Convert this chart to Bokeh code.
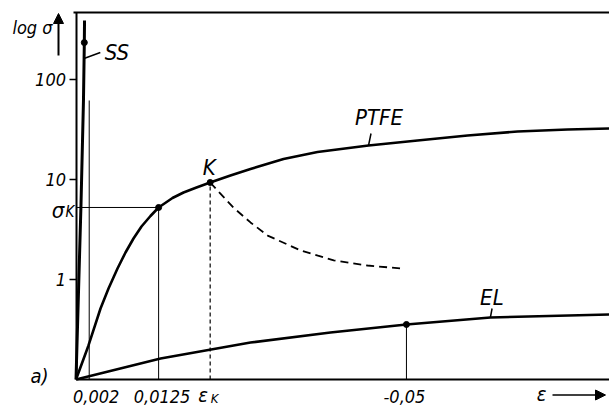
import math
from bokeh.plotting import figure
from bokeh.models import Range1d, FixedTicker, Label, Arrow, NormalHead, PrintfTickFormatter
from bokeh.embed import file_html
from bokeh.resources import INLINE

# ---------------- data ----------------
eps_ptfe = [0, 0.00189, 0.00371, 0.00492, 0.00628, 0.00749, 0.0087, 0.00991, 0.01127,
            0.0125, 0.0146, 0.01627, 0.01823, 0.0203, 0.02337, 0.0264, 0.0314, 0.03654,
            0.04426, 0.05168, 0.05925, 0.06681, 0.07438, 0.08073]
sig_ptfe = [0.1, 0.219, 0.513, 0.813, 1.288, 1.862, 2.57, 3.388, 4.315,
            5.25, 6.531, 7.413, 8.318, 9.333, 10.96, 12.74, 16.03, 18.84,
            21.88, 24.55, 27.54, 30.2, 31.62, 32.36]

eps_el = [0, 0.0128, 0.0264, 0.0385, 0.05, 0.0627, 0.0807]
sig_el = [0.1, 0.162, 0.234, 0.295, 0.355, 0.417, 0.447]

eps_ss = [0, 0.00076, 0.00113, 0.00126, 0.00129]
sig_ss = [0.1, 5.75, 61.7, 234, 389]

eps_dash = [0.0203, 0.0238, 0.0264, 0.029, 0.034, 0.039, 0.0441, 0.0491]
sig_dash = [9.333, 5.25, 3.72, 2.75, 1.95, 1.55, 1.38, 1.29]

eps_ss_mark, sig_ss_mark = 0.00126, 234
eps_sigK, sigma_K = 0.0125, 5.25          # point with sigma_K
eps_K, sig_K_pt = 0.0203, 9.333           # point K
eps_el_mark, sig_el_mark = 0.05, 0.355    # point on EL
sig_002_top = 61.7                        # top of the 0.002 guide
ptfe_label_at = (0.04426, 21.88)          # where the PTFE leader touches the curve
el_label_at = (0.0627, 0.417)             # where the EL leader touches the curve

y_ticks = [1, 10, 100]
x_tick_values = [0.002, 0.0125, 0.05]
x_tick_labels = ["0,002", "0,0125", "-0,05"]

# ---------------- figure geometry ----------------
W, H = 609, 405
X0_PX, Y0_PX = 75.5, 379.0      # where (eps=0, sigma=0.1) sits
PX_X, PX_Y = 6609.0, 100.0      # px per unit strain, px per decade
Y_BOT = 0.1
X_START = -X0_PX / PX_X
X_END = (W - X0_PX) / PX_X
Y_START = Y_BOT * 10 ** (-(H - Y0_PX) / PX_Y)
Y_END = Y_BOT * 10 ** (Y0_PX / PX_Y)
Y_TOP = Y_BOT * 10 ** ((Y0_PX - 12) / PX_Y)   # top frame line

FONT = "DejaVu Sans Condensed, DejaVu Sans"

p = figure(width=W, height=H, y_axis_type="log",
           x_range=Range1d(X_START, X_END), y_range=Range1d(Y_START, Y_END),
           output_backend="svg", toolbar_location=None,
           min_border_left=0, min_border_right=0, min_border_top=0, min_border_bottom=0)
p.outline_line_color = None
p.xgrid.visible = False
p.ygrid.visible = False
p.background_fill_color = "white"

def shift(e, s, dx, dy):
    return e + dx / PX_X, s * 10 ** (dy / PX_Y)

# y axis
ya = p.yaxis[0]
ya.fixed_location = 0
ya.bounds = (Y_BOT, Y_TOP)
ya.ticker = FixedTicker(ticks=y_ticks, minor_ticks=[])
ya.formatter = PrintfTickFormatter(format="%d")
ya.axis_line_width = 2
ya.major_tick_line_width = 1.5
ya.major_tick_out = 7
ya.major_tick_in = 0
ya.minor_tick_line_color = None
ya.major_label_standoff = 3
ya.major_label_text_font = FONT
ya.major_label_text_font_style = "italic"
ya.major_label_text_font_size = "18px"
ya.major_label_text_color = "black"

# x axis (line only)
xa = p.xaxis[0]
xa.fixed_location = Y_BOT
xa.bounds = (0, X_END)
xa.ticker = FixedTicker(ticks=[], minor_ticks=[])
xa.axis_line_width = 2
xa.major_tick_line_color = None
xa.minor_tick_line_color = None
xa.major_label_text_font_size = "0px"

# top frame line
t0 = shift(0, Y_TOP, -2.5, 0)
p.line([t0[0], X_END], [Y_TOP, Y_TOP], line_color="black", line_width=2)

# guide lines
p.line([0, eps_sigK], [sigma_K, sigma_K], line_color="black", line_width=1)
p.line([eps_sigK, eps_sigK], [Y_BOT, sigma_K], line_color="black", line_width=1)
p.line([eps_el_mark, eps_el_mark], [Y_BOT, sig_el_mark], line_color="black", line_width=1)
p.line([x_tick_values[0], x_tick_values[0]], [Y_BOT, sig_002_top], line_color="black", line_width=1)
p.line([eps_K, eps_K], [Y_BOT, sig_K_pt], line_color="black", line_width=1.2, line_dash="4 3")

# curves
p.line(eps_ptfe, sig_ptfe, line_color="black", line_width=2.6, line_join="round")
p.line(eps_el, sig_el, line_color="black", line_width=2.6, line_join="round")
p.line(eps_ss, sig_ss, line_color="black", line_width=3, line_join="round")
p.line(eps_dash, sig_dash, line_color="black", line_width=1.8, line_dash="8 5")

p.scatter([eps_sigK, eps_K, eps_el_mark, eps_ss_mark], [sigma_K, sig_K_pt, sig_el_mark, sig_ss_mark],
          size=6, color="black")

# leader lines
ss0 = shift(eps_ss_mark, sig_ss_mark, -0.3, -16); ss1 = shift(eps_ss_mark, sig_ss_mark, 16, -10)
pt0 = ptfe_label_at; pt1 = shift(*ptfe_label_at, 2.5, 12)
el0 = el_label_at; el1 = shift(*el_label_at, 1.7, 9)
for a, b in [(ss0, ss1), (pt0, pt1), (el0, el1)]:
    p.segment(x0=[a[0]], y0=[a[1]], x1=[b[0]], y1=[b[1]], line_color="black", line_width=1.5)

def lab(text, x, y, dx=0, dy=0, size=20, align="center", baseline="middle"):
    p.add_layout(Label(x=x, y=y, x_offset=dx, y_offset=dy, text=text,
                       text_font=FONT, text_font_style="italic",
                       text_font_size=f"{size}px", text_align=align,
                       text_baseline=baseline, text_color="black"))

lab("SS", eps_ss_mark, sig_ss_mark, 32.5, -9.5, size=22)
lab("PTFE", *ptfe_label_at, 10.5, 27.5, size=22)
lab("EL", *el_label_at, 1.5, 20, size=22)
lab("K", eps_K, sig_K_pt, -1, 14.5, size=22)
lab("a)", 0, Y_BOT, -36.5, 4)

for v, t, dx in zip(x_tick_values, x_tick_labels, [7, 3.4, -2]):
    lab(t, v, Y_BOT, dx, -16.5, size=18)
lab("ε", eps_K, Y_BOT, -7, -15, size=20)
lab("K", eps_K, Y_BOT, 4.5, -18.5, size=13)

lab("σ", 0, sigma_K, -18, -3, size=22)
lab("K", 0, sigma_K, -6, -5, size=15)

lab("log σ", 0, Y_TOP, -23.5, -15, size=18, align="right", baseline="alphabetic")
a0 = shift(0, Y_TOP, -17.5, -43); a1 = shift(0, Y_TOP, -17.5, -1)
p.add_layout(Arrow(end=NormalHead(size=10, fill_color="black", line_color="black"),
                   x_start=a0[0], y_start=a0[1], x_end=a1[0], y_end=a1[1],
                   line_color="black", line_width=2))

lab("ε", X_END, Y_BOT, -68, -14.5)
b0 = shift(X_END, Y_BOT, -57, -15.5); b1 = shift(X_END, Y_BOT, -4, -15.5)
p.add_layout(Arrow(end=NormalHead(size=10, fill_color="black", line_color="black"),
                   x_start=b0[0], y_start=b0[1], x_end=b1[0], y_end=b1[1],
                   line_color="black", line_width=1.5))

open("out.html", "w").write(file_html(p, INLINE))
